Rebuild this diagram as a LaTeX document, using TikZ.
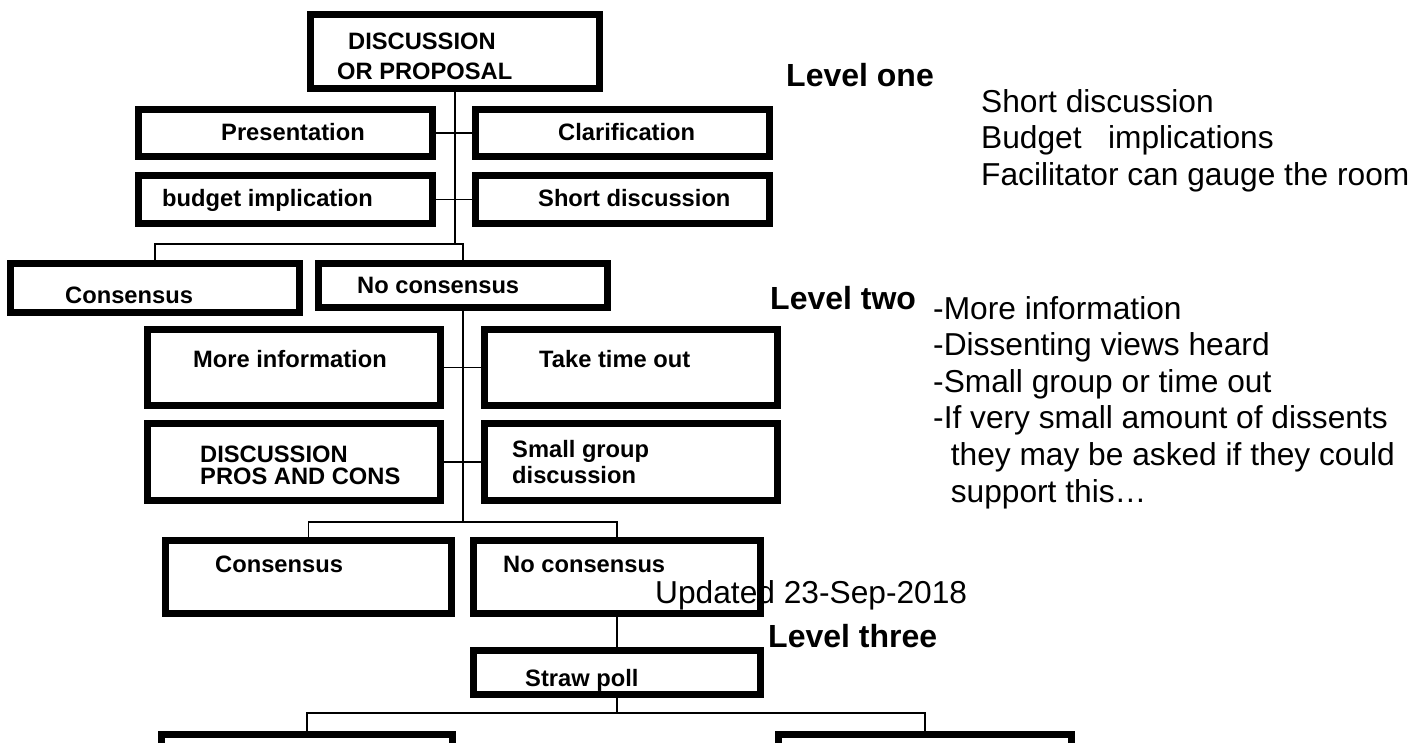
\documentclass[tikz,border=0pt]{standalone}
\usepackage{fontspec}
\setmainfont{Liberation Sans}

\begin{document}
\begin{tikzpicture}[x=1pt,y=-1pt,
    box/.style={draw,line width=7pt,inner sep=0pt},
    tie/.style={line width=1.5pt},
    lbl/.style={font=\fontsize{23.7}{26}\selectfont\bfseries,anchor=base west,inner sep=0pt},
    note/.style={font=\fontsize{31.7}{36.6}\selectfont,anchor=north west,inner sep=0pt,align=left},
    lev/.style={font=\fontsize{32}{36}\selectfont\bfseries,anchor=base west,inner sep=0pt}]
\useasboundingbox (0,0) rectangle (1426,743);
\clip (0,0) rectangle (1426,743);
% boxes
\foreach \nm/\cx/\cy/\w/\h in {prop/455/51.5/296/81, pres/285.5/133/301/54,
    clar/622.5/133/301/54, budg/285.5/199.5/301/55, shdi/622.5/199.5/301/55,
    cons1/155/288/296/56, nocon1/463/285.5/296/51, info/294/367.5/300/83,
    tout/631/367.5/300/83, pros/294/462/300/84, smgr/631/462/300/84,
    cons2/308.5/577/293/80, nocon2/617/577/294/80, straw/617/672.5/294/51,
    left3/307/771/298/80, right3/925/771/300/80}
    \node[box,minimum width=\w-7,minimum height=\h-7] (\nm) at (\cx,\cy) {};
% level one
\coordinate (j1) at (0,244);
\draw[tie] (prop.south) -- (prop.south |- j1);
\draw[tie] (pres.east) -- (clar.west);
\draw[tie] (budg.east) -- (shdi.west);
\draw[tie] (cons1.north) |- (nocon1.north |- j1) -- (nocon1.north);
% level two
\coordinate (j2) at (0,522);
\draw[tie] (nocon1.south) -- (nocon1.south |- j2);
\draw[tie] (info.east) -- (tout.west);
\draw[tie] (pros.east) -- (smgr.west);
\draw[tie] (cons2.north) |- (nocon2.north |- j2) -- (nocon2.north);
% level three
\coordinate (j3) at (0,713);
\draw[tie] (nocon2.south) -- (straw.north);
\draw[tie] (straw.south) -- (straw.south |- j3);
\draw[tie] (left3.north) |- (right3.north |- j3) -- (right3.north);
% box texts
\foreach \nm/\x/\y/\t in {pres-t/221/141/Presentation, clar-t/558/141/Clarification,
    budg-t/162/207/budget implication, shdi-t/538/207/Short discussion,
    cons1-t/65/303/Consensus, nocon1-t/357/294/No consensus,
    info-t/193/367/More information, tout-t/539/367/Take time out,
    cons2-t/215/572/Consensus, nocon2-t/503/572/No consensus,
    straw-t/525/686/Straw poll}
    \node[lbl] (\nm) at (\x,\y) {\t};
\node[lbl,anchor=north west,align=left,font=\fontsize{23.7}{30}\selectfont\bfseries]
    (prop-t) at (337,33) {\hspace{11pt}DISCUSSION\\OR PROPOSAL};
\node[lbl,anchor=north west,align=left,font=\fontsize{23.7}{22}\selectfont\bfseries]
    (pros-t) at (200,446) {DISCUSSION\\PROS AND CONS};
\node[lbl,anchor=north west,align=left,font=\fontsize{23.7}{26}\selectfont\bfseries]
    (smgr-t) at (512,440) {Small group\\discussion};
% notes
\node[lev] (lev1) at (786,87) {Level one};
\node[lev] (lev2) at (770,309) {Level two};
\node[lev] (lev3) at (768,647) {Level three};
\node[note] (note1) at (981,89) {Short discussion\\Budget\ \ \ implications\\Facilitator can gauge the room};
\node[note] (note2) at (933,296) {-More information\\-Dissenting views heard\\-Small group or time out\\-If very small amount of dissents\\\ \ they may be asked if they could\\\ \ support this…};
\node[note,anchor=base west] (upd) at (655,603) {Updated 23-Sep-2018};
\end{tikzpicture}
\end{document}
